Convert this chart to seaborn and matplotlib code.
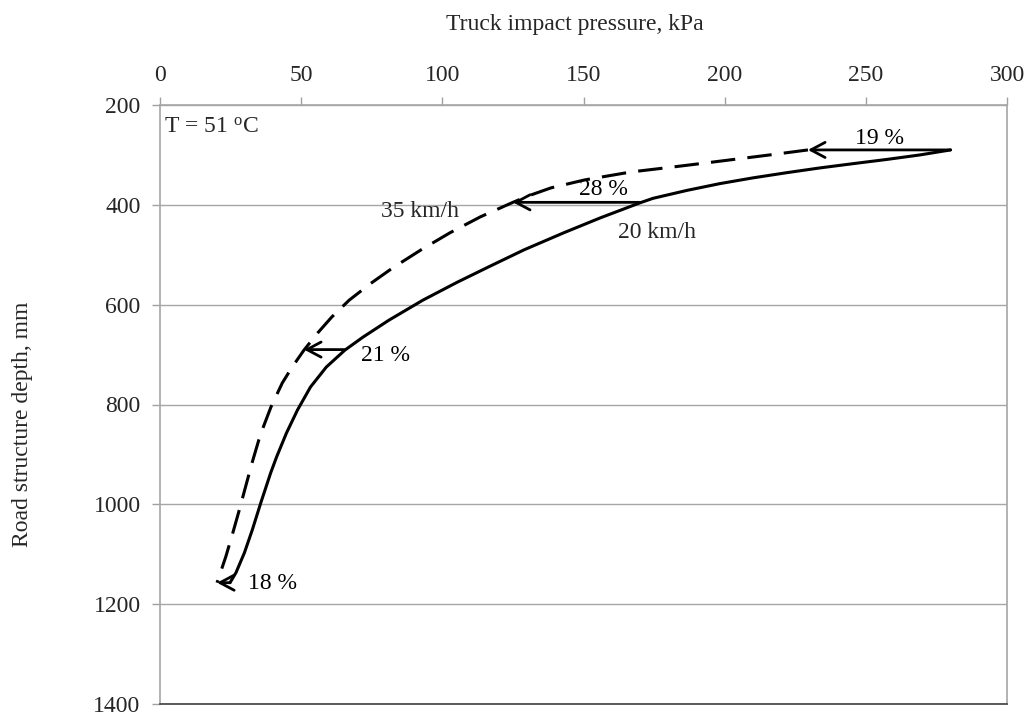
import matplotlib
matplotlib.use("Agg")
import matplotlib.pyplot as plt
import pandas as pd
import seaborn as sns

# Truck impact pressure (kPa) against road structure depth (mm), T = 51 °C
depth_20 = [290, 300, 309, 317.5, 326, 335.5, 346, 357.5, 371, 387, 396, 426, 456, 490, 524, 555,
            591, 631, 665, 691, 725, 765, 811, 857, 905, 937, 997, 1051, 1097, 1137, 1157]
pressure_20 = [280, 269.2, 257.5, 245.5, 233.8, 222.1, 210, 198.3, 186.7, 174.6, 170, 156, 143, 129, 116.5, 105.3,
               93.1, 81.1, 71.9, 65.5, 58.9, 53.3, 48.7, 44.8, 41.3, 39.2, 35.7, 32.7, 29.9, 26.9, 24.8]

depth_35 = [290, 300, 308.5, 317, 325, 334, 350, 366, 382, 395, 424, 456, 490, 526, 558, 591,
            625, 657, 691, 725, 757, 805, 845, 871, 917, 965, 1011, 1057, 1105, 1157]
pressure_35 = [229.5, 216, 204, 192, 180.5, 167, 150.5, 138.5, 130.5, 125, 113.5, 102.7, 92.5, 82.5, 74.5, 67,
               60.8, 55.8, 51, 46.8, 43.3, 39.3, 36.6, 35, 32.6, 30.3, 28.1, 25.8, 23.3, 20.2]

speeds = ["20 km/h", "35 km/h"]

# Reduction arrows between the two speeds
arrow_depth = [290, 395, 690, 1157]
arrow_from = [280, 170, 65.3, 24.8]
arrow_to = [229.5, 125, 51, 20.2]
arrow_labels = ["19 %", "28 %", "21 %", "18 %"]

x_ticks = [0, 50, 100, 150, 200, 250, 300]
y_ticks = [200, 400, 600, 800, 1000, 1200, 1400]

df = pd.DataFrame({
    "pressure": pressure_20 + pressure_35,
    "depth": depth_20 + depth_35,
    "speed": [speeds[0]] * len(depth_20) + [speeds[1]] * len(depth_35),
})

sns.set_theme(style="white")
plt.rcParams["font.family"] = ["Liberation Serif", "DejaVu Serif"]
plt.rcParams["font.size"] = 17

FS = 17

fig = plt.figure(figsize=(10.28, 7.16), dpi=100)
ax = fig.add_axes([160 / 1028, 12 / 716, 847 / 1028, 599 / 716])

sns.lineplot(data=df, x="pressure", y="depth", style="speed", sort=False,
             estimator=None, color="black", linewidth=2.2, legend=False,
             dashes={speeds[0]: "", speeds[1]: (8, 4)}, ax=ax)
for line in ax.get_lines():
    line.set_solid_joinstyle("round")
    line.set_dash_joinstyle("round")

for d, x0, x1 in zip(arrow_depth, arrow_from, arrow_to):
    ax.annotate("", xy=(x1, d), xytext=(x0, d),
                arrowprops=dict(arrowstyle="->,head_length=0.6,head_width=0.32",
                                lw=2.0, color="black", shrinkA=0, shrinkB=0))

label_pos = [(255, 268), (157, 370), (80, 701), (40, 1159)]
for (lx, ly), txt in zip(label_pos, arrow_labels):
    ax.text(lx, ly, txt, ha="center", va="center", fontsize=FS, color="black")

ax.text(92, 414, speeds[1], ha="center", va="center", fontsize=FS)
ax.text(176, 456, speeds[0], ha="center", va="center", fontsize=FS)
ax.text(1.5, 244, "T = 51 $\\mathregular{^o}$C", ha="left", va="center", fontsize=FS)

ax.set_xlim(0, 300)
ax.set_ylim(1400, 200)
ax.set_xticks(x_ticks)
ax.set_yticks(y_ticks)
ax.xaxis.tick_top()
ax.xaxis.set_label_position("top")
ax.tick_params(axis="x", which="both", top=True, bottom=False, direction="out",
               length=6, width=1, color="#a0a0a0", pad=8, labelsize=FS)
ax.tick_params(axis="y", which="both", left=True, direction="out",
               length=6, width=1, color="#a0a0a0", pad=8, labelsize=FS)

ax.yaxis.grid(True, color="#a6a6a6", linewidth=1)
ax.xaxis.grid(False)
for side in ["top", "left", "right"]:
    ax.spines[side].set_color("#a6a6a6")
    ax.spines[side].set_linewidth(1.2)
ax.spines["bottom"].set_color("#404040")
ax.spines["bottom"].set_linewidth(1.2)

ax.set_xlabel("Truck impact pressure, kPa", fontsize=FS)
ax.set_ylabel("Road structure depth, mm", fontsize=FS)
ax.xaxis.set_label_coords(0.49, 1.125)
ax.yaxis.set_label_coords(-0.150, 0.467)

fig.savefig("out.png", dpi=100)
